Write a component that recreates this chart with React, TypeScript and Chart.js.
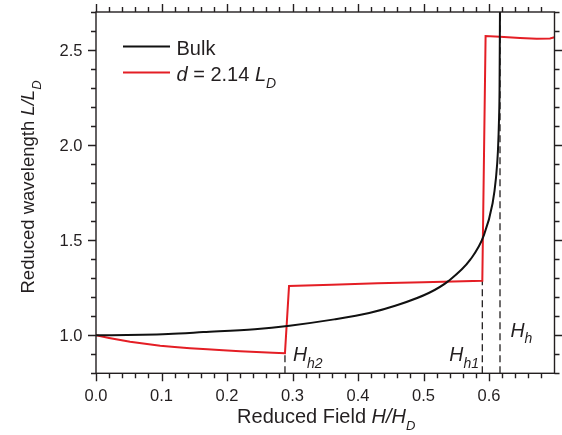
import React, { useEffect, useRef } from "react";
import { Chart, registerables } from "chart.js";
Chart.register(...registerables);

// ---- data ----
const bulkH = [0, 0.0236, 0.0716, 0.1104, 0.1637, 0.2424, 0.2955, 0.3638, 0.4171, 0.458, 0.5088, 0.5379, 0.5717, 0.5918, 0.6055, 0.6107, 0.6136, 0.6154, 0.6161, 0.6168];
const bulkL = [1.0, 1.0002, 1.0026, 1.0067, 1.0166, 1.0321, 1.0506, 1.0836, 1.1171, 1.1564, 1.2236, 1.2848, 1.3987, 1.5222, 1.6944, 1.8293, 1.9663, 2.149, 2.289, 2.75];

const filmH = [0, 0.02, 0.035, 0.052, 0.075, 0.098, 0.12, 0.1435, 0.17, 0.194, 0.22, 0.245, 0.27, 0.2885, 0.2947, 0.36, 0.43, 0.5, 0.5898, 0.5948, 0.6168, 0.6473, 0.6728, 0.6931, 0.7];
const filmL = [1.0, 0.986, 0.976, 0.966, 0.955, 0.945, 0.938, 0.932, 0.926, 0.921, 0.916, 0.912, 0.908, 0.906, 1.2587, 1.2655, 1.2734, 1.279, 1.2866, 2.5735, 2.57, 2.563, 2.559, 2.561, 2.567];

const markerH = [0.2885, 0.5898, 0.6168]; // Hh2, Hh1, Hh
const markerTop = [0.906, 1.2866, 2.7];

const xTickLabels = ["0.0", "0.1", "0.2", "0.3", "0.4", "0.5", "0.6"];
const yTickLabels = ["1.0", "1.5", "2.0", "2.5"];

const X_MIN = 0, X_MAX = 0.7, Y_MIN = 0.8, Y_MAX = 2.7;

const FONT = '"Liberation Sans", Arial, Helvetica, sans-serif';
const INK = "#231f20";
const RED = "#e41e25";

type Part = { t: string; size: number; italic?: boolean; dy?: number };
const fontOf = (p: Part) => `${p.italic ? "italic " : ""}${p.size}px ${FONT}`;

function drawRich(ctx: CanvasRenderingContext2D, parts: Part[], x: number, y: number, align: "left" | "center") {
  let w = 0;
  for (const p of parts) {
    ctx.font = fontOf(p);
    w += ctx.measureText(p.t).width;
  }
  let cx = align === "center" ? x - w / 2 : x;
  ctx.textAlign = "left";
  ctx.textBaseline = "alphabetic";
  for (const p of parts) {
    ctx.font = fontOf(p);
    ctx.fillText(p.t, cx, y + (p.dy || 0));
    cx += ctx.measureText(p.t).width;
  }
}

const decorPlugin = {
  id: "decor",
  afterDraw(chart: any) {
    const ctx: CanvasRenderingContext2D = chart.ctx;
    const xs = chart.scales.x;
    const ys = chart.scales.y;
    const { left, right, top, bottom } = chart.chartArea;
    ctx.save();
    ctx.strokeStyle = INK;
    ctx.fillStyle = INK;
    ctx.lineWidth = 1.4;
    ctx.strokeRect(left, top, right - left, bottom - top);

    // x ticks (bottom + top mirrored)
    ctx.beginPath();
    for (let i = 0; i <= 35; i++) {
      const v = i * 0.02;
      if (v > X_MAX - 0.005) break;
      const major = i % 5 === 0;
      const len = major ? 8 : 5;
      const px = Math.round(xs.getPixelForValue(v)) + 0.5;
      ctx.moveTo(px, bottom);
      ctx.lineTo(px, bottom + len);
      ctx.moveTo(px, top);
      ctx.lineTo(px, top - len);
    }
    // y ticks (left + right mirrored)
    for (let i = 0; i <= 19; i++) {
      const v = Y_MIN + i * 0.1;
      const major = i === 2 || i === 7 || i === 12 || i === 17;
      const len = major ? 8 : 5;
      const py = Math.round(ys.getPixelForValue(v)) + 0.5;
      ctx.moveTo(left, py);
      ctx.lineTo(left - len, py);
      ctx.moveTo(right, py);
      ctx.lineTo(right + len, py);
    }
    ctx.stroke();

    // tick labels
    ctx.font = `16.5px ${FONT}`;
    ctx.textAlign = "center";
    ctx.textBaseline = "alphabetic";
    xTickLabels.forEach((lab) => {
      ctx.fillText(lab, xs.getPixelForValue(parseFloat(lab)), bottom + 28);
    });
    ctx.textAlign = "right";
    yTickLabels.forEach((lab) => {
      ctx.fillText(lab, left - 13.5, ys.getPixelForValue(parseFloat(lab)) + 5.9);
    });

    // axis titles
    drawRich(
      ctx,
      [
        { t: "Reduced Field ", size: 20 },
        { t: "H/H", size: 20, italic: true },
        { t: "D", size: 13, italic: true, dy: 7 },
      ],
      (left + right) / 2 + 1,
      423,
      "center"
    );
    ctx.save();
    ctx.translate(33.5, 187);
    ctx.rotate(-Math.PI / 2);
    drawRich(
      ctx,
      [
        { t: "Reduced wavelength ", size: 18.5 },
        { t: "L/L", size: 18.5, italic: true },
        { t: "D", size: 13, italic: true, dy: 7 },
      ],
      0,
      0,
      "center"
    );
    ctx.restore();

    // legend
    ctx.lineWidth = 2;
    ctx.strokeStyle = "#111";
    ctx.beginPath();
    ctx.moveTo(123, 46.5);
    ctx.lineTo(170, 46.5);
    ctx.stroke();
    ctx.strokeStyle = RED;
    ctx.beginPath();
    ctx.moveTo(123, 72.5);
    ctx.lineTo(170, 72.5);
    ctx.stroke();
    ctx.fillStyle = INK;
    drawRich(ctx, [{ t: "Bulk", size: 20 }], 176.5, 55, "left");
    drawRich(
      ctx,
      [
        { t: "d", size: 20, italic: true },
        { t: " = 2.14 ", size: 20 },
        { t: "L", size: 20, italic: true },
        { t: "D", size: 14, italic: true, dy: 7 },
      ],
      176.5,
      80.5,
      "left"
    );

    // field markers
    const x2 = xs.getPixelForValue(markerH[0]);
    const x1 = xs.getPixelForValue(markerH[1]);
    const x0 = xs.getPixelForValue(markerH[2]);
    drawRich(ctx, [{ t: "H", size: 19.5, italic: true }, { t: "h2", size: 14, italic: true, dy: 7.5 }], x2 + 8, 360.7, "left");
    drawRich(ctx, [{ t: "H", size: 19.5, italic: true }, { t: "h1", size: 14, italic: true, dy: 7.5 }], x1 - 33, 360.7, "left");
    drawRich(ctx, [{ t: "H", size: 19.5, italic: true }, { t: "h", size: 14, italic: true, dy: 6.5 }], x0 + 10.5, 336.5, "left");

    ctx.restore();
  },
};

export default function App() {
  const ref = useRef<HTMLCanvasElement | null>(null);
  useEffect(() => {
    if (!ref.current) return;
    const dashed = markerH.map((h, i) => ({
      type: "scatter" as const,
      data: [
        { x: h, y: Y_MIN },
        { x: h, y: markerTop[i] },
      ],
      showLine: true,
      borderColor: INK,
      borderWidth: 1.3,
      borderDash: [7, 4],
      pointRadius: 0,
      order: 2,
      clip: 0,
    }));
    const chart = new Chart(ref.current, {
      type: "scatter",
      data: {
        datasets: [
          {
            label: "Bulk",
            data: bulkH.map((h, i) => ({ x: h, y: bulkL[i] })),
            showLine: true,
            borderColor: "#111",
            borderWidth: 2,
            pointRadius: 0,
            cubicInterpolationMode: "monotone",
            order: 0,
            clip: 0,
          },
          {
            label: "d = 2.14 LD",
            data: filmH.map((h, i) => ({ x: h, y: filmL[i] })),
            showLine: true,
            borderColor: RED,
            borderWidth: 2,
            pointRadius: 0,
            tension: 0,
            order: 1,
            clip: 0,
          },
          ...dashed,
        ] as any,
      },
      options: {
        animation: false,
        responsive: false,
        devicePixelRatio: 1,
        layout: { padding: { left: 96, right: 7.5, top: 12, bottom: 61.7 } },
        plugins: { legend: { display: false }, tooltip: { enabled: false } },
        scales: {
          x: { type: "linear", min: X_MIN, max: X_MAX, display: false },
          y: { type: "linear", min: Y_MIN, max: Y_MAX, display: false },
        },
      },
      plugins: [decorPlugin],
    });
    return () => chart.destroy();
  }, []);
  return (
    <div style={{ position: "absolute", left: 0, top: 0, width: 562, height: 435, background: "#fff" }}>
      <canvas ref={ref} width={562} height={435} />
    </div>
  );
}
